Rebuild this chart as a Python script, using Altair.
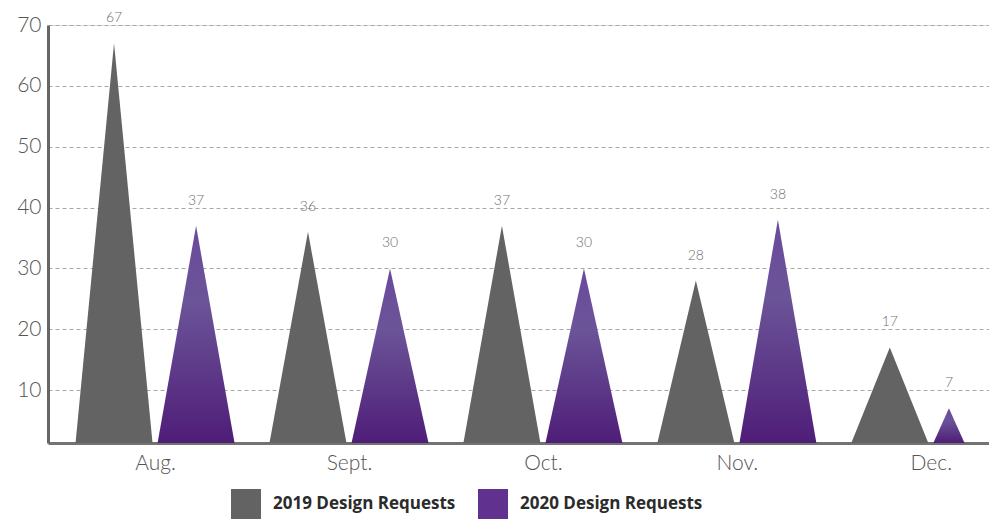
import altair as alt
import pandas as pd

months = ["Aug.", "Sept.", "Oct.", "Nov.", "Dec."]
req_2019 = [67, 36, 37, 28, 17]
req_2020 = [37, 30, 30, 38, 7]
series_names = ["2019 Design Requests", "2020 Design Requests"]

BASE = 1.3
GAP = 0.013
FULL_W = 0.397
PX_Y = 418 / (70 - BASE)
PX_X = 941 / (4.3 + 0.552)

shape_rows = []
peak_rows = []
for i, m in enumerate(months):
    for s, vals in zip(series_names, [req_2019, req_2020]):
        v = vals[i]
        w = min(FULL_W, 0.9 * (v - BASE) * PX_Y / PX_X)
        if s == series_names[0]:
            right = i - GAP
            left = right - w
        else:
            left = i + GAP
            right = left + w
        peak = (left + right) / 2
        key = f"{m}-{s}"
        for x, y in [(left, BASE), (peak, v), (right, BASE)]:
            shape_rows.append({"key": key, "series": s, "x": x, "y": y, "base": BASE})
        peak_rows.append({"series": s, "x": peak, "y": v, "label": str(v)})

shapes = pd.DataFrame(shape_rows)
peaks = pd.DataFrame(peak_rows)

label_expr = "[" + ",".join(f"'{m}'" for m in months) + "][datum.value]"

xscale = alt.Scale(domain=[-0.552, 4.3], nice=False, zero=False)
yscale = alt.Scale(domain=[BASE, 70], nice=False, zero=False)

xenc = alt.X("x:Q", scale=xscale, title=None,
             axis=alt.Axis(values=[0, 1, 2, 3, 4], labelExpr=label_expr, ticks=False,
                           grid=False, domainColor="#737373", domainWidth=3,
                           labelFontSize=21, labelColor="#555555", labelPadding=9,
                           labelFont="Lato", labelFontWeight=300))
yenc = alt.Y("y:Q", scale=yscale, title=None,
             axis=alt.Axis(values=[10, 20, 30, 40, 50, 60, 70], ticks=False, grid=True,
                           gridDash=[4, 3], gridColor="#a8a8a8", gridWidth=1,
                           domainColor="#666666", domainWidth=3, labelFontSize=21,
                           labelColor="#555555", labelPadding=7, labelFont="Lato",
                           labelFontWeight=300))

gradient = alt.LinearGradient(
    gradient="linear",
    stops=[alt.GradientStop(color="#6a4a9c", offset=0),
           alt.GradientStop(color="#6b5498", offset=0.35),
           alt.GradientStop(color="#4f1d78", offset=1)],
    x1=0, y1=0, x2=0, y2=1,
)

base_chart = alt.Chart(shapes)

gray = base_chart.transform_filter(alt.datum.series == series_names[0]).mark_area(
    color="#636363", interpolate="linear"
).encode(x=xenc, y=yenc, y2="base:Q", detail="key:N")

purple = base_chart.transform_filter(alt.datum.series == series_names[1]).mark_area(
    color=gradient, interpolate="linear"
).encode(x=xenc, y=yenc, y2="base:Q", detail="key:N")

legend_layer = alt.Chart(peaks).mark_square(size=900, opacity=0).encode(
    x=alt.X("x:Q", scale=xscale),
    y=alt.Y("y:Q", scale=yscale),
    color=alt.Color("series:N",
                    scale=alt.Scale(domain=series_names, range=["#636363", "#61318f"]),
                    legend=alt.Legend(title=None, orient="none", direction="horizontal",
                                      legendX=183, legendY=464, symbolType="square",
                                      symbolSize=900, symbolOpacity=1, symbolStrokeWidth=0,
                                      labelFontSize=17, labelFontWeight="bold",
                                      labelFont="Open Sans", labelColor="#2b2b2b",
                                      labelOffset=12, columnPadding=22, labelLimit=300)),
)

labels = alt.Chart(peaks).mark_text(
    fontSize=14, color="#6f6f6f", dy=-25, baseline="middle", font="Lato", fontWeight=300
).encode(x=alt.X("x:Q", scale=xscale), y=alt.Y("y:Q", scale=yscale), text="label:N")

chart = alt.layer(gray, purple, legend_layer, labels).properties(
    width=941, height=418,
    autosize=alt.AutoSizeParams(type="none"),
    padding={"left": 48, "top": 25, "right": 0, "bottom": 77},
).configure_view(stroke=None).configure(background="white")

chart.save("out.html", embed_options={"renderer": "svg", "actions": False})
